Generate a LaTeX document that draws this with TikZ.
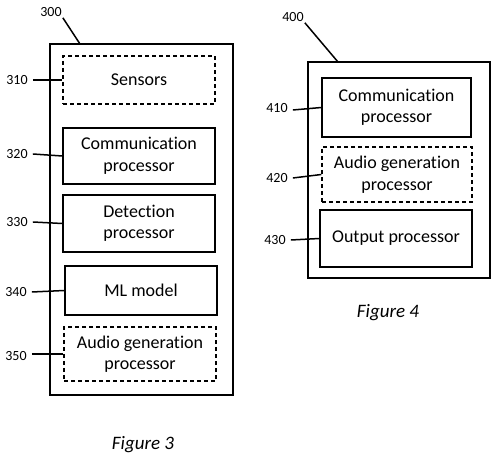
\documentclass[tikz,border=0pt]{standalone}
\usepackage{fontspec}
\setmainfont{Carlito}[Ligatures=NoCommon]
\usepackage{tikz}

\begin{document}
\begin{tikzpicture}[x=1pt,y=-1pt,
		unitbox/.style={draw,line width=1.3pt,align=center,inner sep=0pt,
			font=\fontsize{18}{21.5}\selectfont},
		optbox/.style={unitbox,dashed,dash pattern=on 4pt off 3pt},
		frame/.style={draw,line width=1.6pt,inner sep=0pt},
		refnum/.style={font=\fontsize{14}{16}\selectfont,inner sep=1pt},
		leader/.style={line width=1.5pt},
		figcap/.style={font=\fontsize{19}{22}\selectfont\itshape}]
				\useasboundingbox (0,0) rectangle (498,462);

				% Figure 3
				\node[frame,minimum width=183pt,minimum height=351pt] (f300) at (141.5,219.5) {};
				\node[optbox,minimum width=152pt,minimum height=48pt] (s310) at (139,80) {Sensors};
				\node[unitbox,minimum width=152pt,minimum height=56pt] (c320) at (139,156) {Communication\\processor};
				\node[unitbox,minimum width=152pt,minimum height=57pt] (d330) at (139,223.5) {Detection\\processor};
				\node[unitbox,minimum width=152pt,minimum height=49pt] (m340) at (141,290.5) {ML model};
				\node[optbox,minimum width=152pt,minimum height=54pt] (a350) at (140,354) {Audio generation\\processor};

				\node[refnum] (l300) at (51,12) {300};
				\node[refnum] (l310) at (17,80) {310};
				\node[refnum] (l320) at (17,154) {320};
				\node[refnum] (l330) at (17,222) {330};
				\node[refnum] (l340) at (16,292) {340};
				\node[refnum] (l350) at (16,356) {350};

				\coordinate (t300) at (80,44);
				\draw[leader] (l300.south east) -- (t300);
				\draw[leader] (l310.east) ++(4,0) -- (s310.west);
				\draw[leader] (l320.east) ++(4,0) -- (c320.west);
				\draw[leader] (l330.east) ++(4,0) -- (d330.west);
				\draw[leader] (l340.east) ++(4,0) -- (m340.west);
				\draw[leader] (l350.east) ++(4,-2) -- (a350.west);

				\node[figcap] (cap3) at (143,445) {Figure 3};

				% Figure 4
				\node[frame,minimum width=182pt,minimum height=216pt] (f400) at (399,170) {};
				\node[unitbox,minimum width=149pt,minimum height=59pt] (c410) at (396.5,107.5) {Communication\\processor};
				\node[optbox,minimum width=150pt,minimum height=55pt] (a420) at (397,174.5) {Audio generation\\processor};
				\node[unitbox,minimum width=152pt,minimum height=57pt] (o430) at (396,238.5) {Output processor};

				\node[refnum] (l400) at (293,17) {400};
				\node[refnum] (l410) at (277,108) {410};
				\node[refnum] (l420) at (277,178) {420};
				\node[refnum] (l430) at (275,240) {430};

				\coordinate (t400) at (338,62);
				\draw[leader] (l400.south east) -- (t400);
				\draw[leader] (l410.east) ++(4,2) -- (c410.west);
				\draw[leader] (l420.east) ++(4,0) -- (a420.west);
				\draw[leader] (l430.east) ++(4,0) -- (o430.west);

				\node[figcap] (cap4) at (388,313) {Figure 4};
\end{tikzpicture}
\end{document}
